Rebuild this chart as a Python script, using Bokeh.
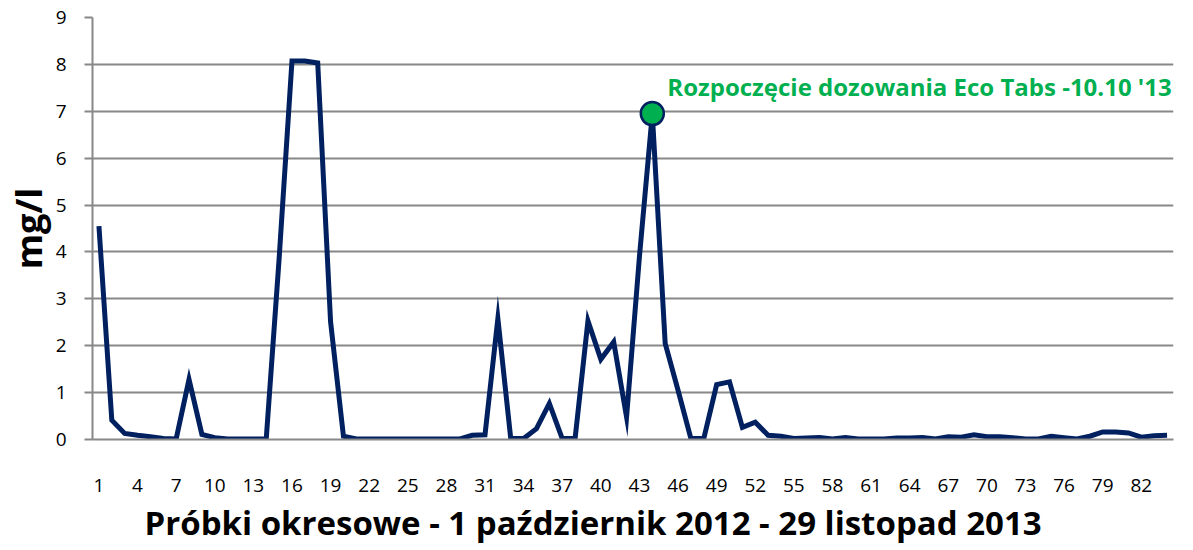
from bokeh.plotting import figure
from bokeh.models import FixedTicker, Range1d, ColumnDataSource, Title
from bokeh.embed import file_html
from bokeh.resources import INLINE
from bokeh.core.properties import value

# ---- data ----
samples = list(range(1, 85))
mg_l = [4.55, 0.41, 0.13, 0.09, 0.06, 0.02, 0.01, 1.28, 0.11, 0.04,
        0.01, 0.01, 0.01, 0.01, 3.85, 8.07, 8.07, 8.03, 2.51, 0.07,
        0.01, 0.01, 0.01, 0.01, 0.01, 0.01, 0.01, 0.01, 0.01, 0.09,
        0.10, 2.58, 0.02, 0.02, 0.23, 0.77, 0.02, 0.02, 2.53, 1.71,
        2.08, 0.48, 3.90, 6.95, 2.05, 1.05, 0.02, 0.02, 1.17, 1.23,
        0.26, 0.37, 0.09, 0.07, 0.02, 0.03, 0.04, 0.01, 0.04, 0.01,
        0.01, 0.01, 0.03, 0.03, 0.04, 0.01, 0.06, 0.05, 0.10, 0.06,
        0.06, 0.04, 0.01, 0.01, 0.07, 0.04, 0.01, 0.07, 0.16, 0.16,
        0.14, 0.05, 0.08, 0.09]
x_ticks = list(range(1, 83, 3))
x_tick_labels = [str(t) for t in x_ticks]
y_ticks = list(range(0, 10))
y_tick_labels = [str(t) for t in y_ticks]
marker_sample = 44
marker_text = "Rozpoczęcie dozowania Eco Tabs -10.10 '13"
x_title = "Próbki okresowe - 1 październik 2012 - 29 listopad 2013"
y_title = "mg/l"

NAVY = "#002060"
GREEN = "#00B050"
GRID = "#888888"
FONT = "Open Sans"

p = figure(width=1193, height=550, output_backend="svg", toolbar_location=None,
           x_range=Range1d(0.5, len(samples) + 0.5), y_range=Range1d(0, 9),
           min_border_left=92, min_border_right=20, min_border_top=17,
           min_border_bottom=111, background_fill_color="white",
           border_fill_color="white", outline_line_color=None)

src = ColumnDataSource(dict(x=samples, y=mg_l))
p.line("x", "y", source=src, line_color=NAVY, line_width=5, line_join="miter")

mi = samples.index(marker_sample)
msrc = ColumnDataSource(dict(x=[samples[mi]], y=[mg_l[mi]], t=[marker_text]))
p.scatter("x", "y", source=msrc, size=23, fill_color=GREEN, line_color=NAVY, line_width=2.5)
p.text("x", "y", text="t", source=msrc, x_offset=15, y_offset=-27,
       text_color=GREEN, text_font=value(FONT), text_font_style="bold",
       text_font_size="24px", text_baseline="middle", text_align="left")

# grid
p.xgrid.grid_line_color = None
p.ygrid.grid_line_color = GRID
p.ygrid.grid_line_width = 2
p.ygrid.ticker = FixedTicker(ticks=y_ticks)

# x axis
p.xaxis.ticker = FixedTicker(ticks=x_ticks)
p.xaxis.major_label_overrides = {t: l for t, l in zip(x_ticks, x_tick_labels)}
p.xaxis.axis_line_color = GRID
p.xaxis.axis_line_width = 2
p.xaxis.major_tick_line_color = None
p.xaxis.major_tick_in = 0
p.xaxis.major_tick_out = 0
p.xaxis.minor_tick_line_color = None
p.xaxis.minor_tick_in = 0
p.xaxis.minor_tick_out = 0
p.xaxis.major_label_standoff = 39
p.xaxis.major_label_text_font = FONT
p.xaxis.major_label_text_font_size = "19px"
p.xaxis.major_label_text_color = "black"

# x title (below the axis, shifted like the original)
xt = Title(text=x_title, align="left", offset=52, standoff=6,
           text_font=FONT, text_font_size="33px", text_font_style="bold",
           text_color="black")
p.add_layout(xt, "below")

# y axis
p.yaxis.ticker = FixedTicker(ticks=y_ticks)
p.yaxis.major_label_overrides = {t: l for t, l in zip(y_ticks, y_tick_labels)}
p.yaxis.axis_line_color = GRID
p.yaxis.axis_line_width = 2
p.yaxis.major_tick_line_color = GRID
p.yaxis.major_tick_line_width = 2
p.yaxis.major_tick_in = 0
p.yaxis.major_tick_out = 8
p.yaxis.minor_tick_line_color = None
p.yaxis.minor_tick_in = 0
p.yaxis.minor_tick_out = 0
p.yaxis.major_label_standoff = 18
p.yaxis.major_label_text_font = FONT
p.yaxis.major_label_text_font_size = "19px"
p.yaxis.major_label_text_color = "black"
p.yaxis.axis_label = y_title
p.yaxis.axis_label_text_font = FONT
p.yaxis.axis_label_text_font_size = "36px"
p.yaxis.axis_label_text_font_style = "bold"
p.yaxis.axis_label_text_color = "black"
p.yaxis.axis_label_standoff = 0

open("out.html", "w").write(file_html(p, INLINE))
